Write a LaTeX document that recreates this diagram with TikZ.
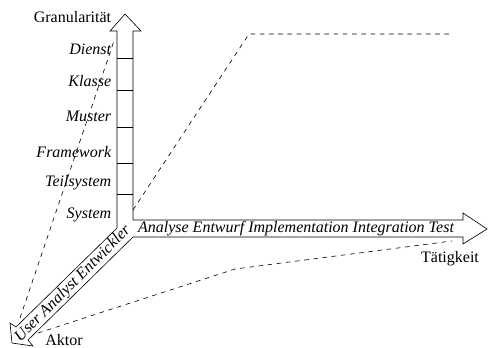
\documentclass[tikz,border=0pt]{standalone}
\usepackage{fontspec}
\setmainfont{Liberation Serif}
\usetikzlibrary{positioning}

\begin{document}
\begin{tikzpicture}[x=0.65pt,y=-0.65pt,
    every node/.style={font=\fontsize{10.4}{12}\selectfont},
    level/.style={anchor=east,inner sep=1pt,font=\fontsize{10.4}{12}\selectfont\itshape},
    axisname/.style={inner sep=1pt}]
    \useasboundingbox (0,0) rectangle (488,347);
    % Granularitaet (oben)
    \draw (117,228) -- (117,31) -- (110,31) -- (125,14) -- (141,31) -- (133,31) -- (133,220);
    \foreach \y in {58,90,127,163,194} {
        \draw (117,\y) -- (133,\y);
    }
    % Taetigkeit (rechts)
    \draw (133,220) -- (463,220) -- (463,213) -- (487,229) -- (463,244) -- (463,237) -- (133,237);
    % Aktor (unten links)
    \draw (117,228) -- (16,327) -- (10,323) -- (12,343) -- (33,346) -- (28,340) -- (133,237);
    \foreach \y/\t/\n in {49/Dienst/dienst,81/Klasse/klasse,116/Muster/muster,152/Framework/framework,183/Teilsystem/teilsystem,215/System/system} {
        \node[level] (\n) at (113,\y) {\t};
    }
    \node[axisname,anchor=east] (gran) at (113,17) {Granularität};
    \node[axisname] (taet) at (450,259) {Tätigkeit};
    \node[axisname] (aktor) at (64,340) {Aktor};
    \node[level,anchor=center] (phasen) at (296,229) {Analyse Entwurf Implementation Integration Test};
    \node[level,anchor=center,rotate=45] (rollen) at (73,284) {User Analyst Entwickler};
    % Ebenen
    \draw[dashed] (20,318) -- (115,38);
    \draw[dashed] (133,210) -- (249,34) -- (452,34);
    \draw[dashed] (38,333) -- (235,269) -- (452,241);
\end{tikzpicture}
\end{document}
